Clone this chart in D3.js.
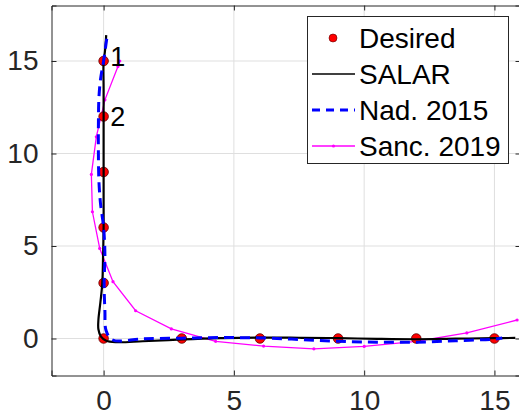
<!DOCTYPE html>
<html>
<head>
<meta charset="utf-8">
<script src="https://cdn.jsdelivr.net/npm/d3@7"></script>
<style>
  body { margin: 0; background: #fff; }
  svg { display: block; font-family: "Liberation Sans", Arial, sans-serif; }
</style>
</head>
<body>
<svg width="519" height="418"></svg>
<script>
// waypoints and tracked paths (x, y)
var desired = [[0,15],[0,12],[0,9],[0,6],[0,3],[0,0],[3,0],[6,0],[9,0],[12,0],[15,0]];
var salar = [[0.1,16.4],[0.05,15.5],[0,15],[0,13.5],[0,12],[0,10.5],[0,9],[0,7.5],[0,6],[-0.02,4.5],[-0.05,3],
  [-0.12,2],[-0.2,1.0],[-0.2,0.5],[-0.1,0.1],[0.1,-0.12],[0.5,-0.2],[1.5,-0.15],[3,-0.05],[4.5,0.02],[6,0.05],
  [7.5,0.04],[9,0.02],[10.5,-0.02],[12,-0.04],[13.5,-0.01],[15,0.02],[15.8,0.03]];
var nad = [[0.12,16.2],[0,15],[-0.12,14],[-0.18,13],[-0.2,11.5],[-0.2,10],[-0.18,8.5],[-0.12,7.3],[0,6],[0.05,4.5],
  [0.02,3],[0.05,1.5],[0.1,0.4],[0.35,-0.08],[1.5,-0.02],[3,0.02],[4.5,0.05],[6,0.03],[7.5,-0.05],[9,-0.15],
  [10.5,-0.2],[12,-0.2],[13.5,-0.12],[15,-0.03],[15.3,0.03]];
var sanc = [[0.62,15.0],[0.55,14.7],[0.05,12.9],[-0.28,10.9],[-0.47,8.87],[-0.43,6.85],[-0.15,4.87],[0.36,3.07],
  [1.23,1.5],[2.6,0.52],[4.3,-0.15],[6.14,-0.41],[8.07,-0.56],[10,-0.43],[12,-0.15],[13.94,0.3],[15.87,1.0]];
var labels = [{t:"1", x:0.25, y:15.25}, {t:"2", x:0.25, y:12}];
var xTicks = [0,5,10,15];
var yTicks = [0,5,10,15];
var legendNames = ["Desired","SALAR","Nad. 2015","Sanc. 2019"];

var svg = d3.select("svg");
var axisCol = "#262626";

var x = d3.scaleLinear().domain([-2,16]).range([51.5,520.5]);
var y = d3.scaleLinear().domain([-2,18]).range([375.5,5.5]);

svg.append("defs").append("clipPath").attr("id","clip")
  .append("rect").attr("x",x(-2)).attr("y",y(18)).attr("width",x(16)-x(-2)).attr("height",y(-2)-y(18));

// grid
var grid = svg.append("g");
grid.selectAll(".gx").data(xTicks).enter().append("line")
  .attr("x1", function(d){ return x(d); }).attr("x2", function(d){ return x(d); })
  .attr("y1", y(-2)).attr("y2", y(18))
  .attr("stroke","#dfdfdf").attr("stroke-width",1);
grid.selectAll(".gy").data(yTicks).enter().append("line")
  .attr("y1", function(d){ return y(d); }).attr("y2", function(d){ return y(d); })
  .attr("x1", x(-2)).attr("x2", x(16))
  .attr("stroke","#dfdfdf").attr("stroke-width",1);

// axes
var xAxis = svg.append("g").attr("transform","translate(0,"+y(-2)+")")
  .call(d3.axisBottom(x).tickValues(xTicks).tickSize(-5).tickPadding(13).tickFormat(d3.format("d")));
var xAxisTop = svg.append("g").attr("transform","translate(0,"+y(18)+")")
  .call(d3.axisTop(x).tickValues(xTicks).tickSize(-5).tickFormat(""));
var yAxis = svg.append("g").attr("transform","translate("+x(-2)+",0)")
  .call(d3.axisLeft(y).tickValues(yTicks).tickSize(-5).tickPadding(13).tickFormat(d3.format("d")));
var yAxisR = svg.append("g").attr("transform","translate("+x(16)+",0)")
  .call(d3.axisRight(y).tickValues(yTicks).tickSize(-5).tickFormat(""));
[xAxis, xAxisTop, yAxis, yAxisR].forEach(function(a){
  a.select(".domain").attr("stroke",axisCol).attr("stroke-width",1);
  a.selectAll(".tick line").attr("stroke",axisCol);
  a.selectAll(".tick text").attr("fill",axisCol).attr("font-size",28)
    .attr("font-family","'Liberation Sans', Arial, sans-serif");
});
xAxis.selectAll(".tick text").attr("dy","0.78em");

var plot = svg.append("g").attr("clip-path","url(#clip)");
var line = d3.line().x(function(d){ return x(d[0]); }).y(function(d){ return y(d[1]); });

plot.append("path").datum(sanc).attr("d", line)
  .attr("fill","none").attr("stroke","#ff00ff").attr("stroke-width",1.3);
plot.selectAll(".sm").data(sanc).enter().append("circle")
  .attr("cx", function(d){ return x(d[0]); }).attr("cy", function(d){ return y(d[1]); })
  .attr("r",1.6).attr("fill","#ff00ff");

plot.selectAll(".dm").data(desired).enter().append("circle")
  .attr("cx", function(d){ return x(d[0]); }).attr("cy", function(d){ return y(d[1]); })
  .attr("r",4.8).attr("fill","#ff0000").attr("stroke","#600000").attr("stroke-width",0.8);

plot.append("path").datum(salar).attr("d", line.curve(d3.curveCatmullRom))
  .attr("fill","none").attr("stroke","#000").attr("stroke-width",2.2);
plot.append("path").datum(nad).attr("d", line.curve(d3.curveCatmullRom))
  .attr("fill","none").attr("stroke","#0000ff").attr("stroke-width",3).attr("stroke-dasharray","10,6");

svg.selectAll(".lab").data(labels).enter().append("text")
  .attr("x", function(d){ return x(d.x); }).attr("y", function(d){ return y(d.y); })
  .attr("dy","0.36em").attr("font-size",27).attr("fill","#000")
  .text(function(d){ return d.t; });

// legend
var lg = svg.append("g");
lg.append("rect").attr("x",307.5).attr("y",16.5).attr("width",201).attr("height",147)
  .attr("fill","#fff").attr("stroke",axisCol).attr("stroke-width",1);
var rows = lg.selectAll(".row").data(legendNames).enter().append("g")
  .attr("transform", function(d,i){ return "translate(0,"+(38 + i*36)+")"; });
rows.append("text").attr("x",359).attr("dy","0.36em").attr("font-size",28).attr("fill","#000")
  .text(function(d){ return d; });
rows.filter(function(d,i){ return i==0; }).append("circle")
  .attr("cx",333).attr("cy",0).attr("r",4).attr("fill","#ff0000").attr("stroke","#600000").attr("stroke-width",0.6);
rows.filter(function(d,i){ return i==1; }).append("line")
  .attr("x1",312).attr("x2",355).attr("stroke","#000").attr("stroke-width",1.5);
rows.filter(function(d,i){ return i==2; }).append("line")
  .attr("x1",312).attr("x2",355).attr("stroke","#0000ff").attr("stroke-width",3).attr("stroke-dasharray","8,6");
rows.filter(function(d,i){ return i==3; }).append("line")
  .attr("x1",312).attr("x2",355).attr("stroke","#ff00ff").attr("stroke-width",1.3);
rows.filter(function(d,i){ return i==3; }).append("circle")
  .attr("cx",333.5).attr("cy",0).attr("r",1.6).attr("fill","#ff00ff");
</script>
</body>
</html>
